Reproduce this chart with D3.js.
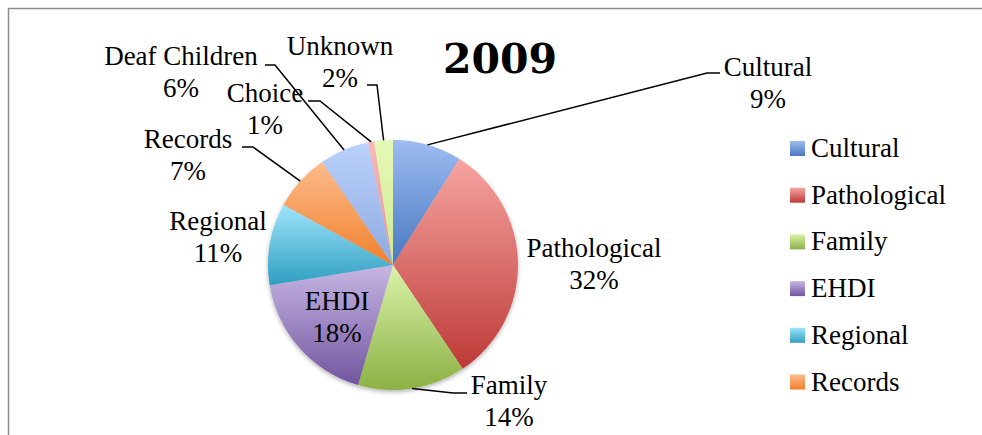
<!DOCTYPE html>
<html>
<head>
<meta charset="utf-8">
<script src="https://cdn.jsdelivr.net/npm/d3@7"></script>
<style>
  html, body { margin: 0; padding: 0; background: #ffffff; }
  svg { display: block; }
</style>
</head>
<body>
<script>
// ---- data ----
const title = "2009";
const categories = ["Cultural", "Pathological", "Family", "EHDI", "Regional", "Records", "Deaf Children", "Choice", "Unknown"];
const values = [8.9, 31.7, 13.9, 17.9, 10.6, 7.4, 6.4, 0.8, 2.4];
const legendCategories = ["Cultural", "Pathological", "Family", "EHDI", "Regional", "Records"];

// ---- styles / layout ----
const colorTop = ["#9dbcf2", "#f6a4a1", "#daf3a9", "#c7b6e4", "#9fe5fb", "#fdbb8b", "#bad1fb", "#f8b8b8", "#e6f9b8"];
const colorBot = ["#4877bf", "#bd3a37", "#8bb145", "#71559e", "#2f9ec0", "#f0812d", "#8eaae0", "#e89393", "#cfe88f"];

// label layout: [centerX, firstBaseline], optional leader elbow & end
const labelLayout = {
  "Cultural":      {x: 768, y: 76,  elbow: [707, 73], end: [720, 73]},
  "Pathological":  {x: 594, y: 257},
  "Family":        {x: 509, y: 394, elbow: [453, 393], end: [467, 393]},
  "EHDI":          {x: 337, y: 310},
  "Regional":      {x: 218, y: 230},
  "Records":       {x: 188, y: 148, elbow: [253, 147], end: [242, 147]},
  "Deaf Children": {x: 181, y: 65,  elbow: [275, 65], end: [265, 65]},
  "Choice":        {x: 265, y: 102, elbow: [320, 101], end: [308, 101]},
  "Unknown":       {x: 340, y: 55,  elbow: [377, 85], end: [367, 85]}
};

const W = 982, H = 435;
const cx = 393, cy = 265, R = 125;
const fontFam = "'Liberation Serif', 'Times New Roman', serif";
const fontSize = 27, lineGap = 32;

const svg = d3.select("body").append("svg").attr("width", W).attr("height", H);
const defs = svg.append("defs");

categories.forEach((c, i) => {
  const g = defs.append("linearGradient").attr("id", "grad" + i)
    .attr("x1", 0).attr("y1", 0).attr("x2", 0).attr("y2", 1);
  g.append("stop").attr("offset", "0%").attr("stop-color", colorTop[i]);
  g.append("stop").attr("offset", "100%").attr("stop-color", colorBot[i]);
});

const filt = defs.append("filter").attr("id", "shadow")
  .attr("x", "-20%").attr("y", "-20%").attr("width", "140%").attr("height", "140%");
filt.append("feDropShadow").attr("dx", 0).attr("dy", 2).attr("stdDeviation", 2)
  .attr("flood-color", "#000").attr("flood-opacity", 0.3);

// frame
svg.append("rect").attr("x", 8.5).attr("y", 8.5).attr("width", W).attr("height", H)
  .attr("fill", "none").attr("stroke", "#8c8c8c").attr("stroke-width", 1.5);

// title
svg.append("text").attr("x", 500).attr("y", 73).attr("text-anchor", "middle")
  .attr("font-family", "'DejaVu Serif', serif").attr("font-weight", "bold")
  .attr("font-size", 41).attr("fill", "#000").text(title);

// pie
const pie = d3.pie().sort(null).value(d => d.v);
const data = categories.map((c, i) => ({c, v: values[i], i}));
const arcs = pie(data);
const arc = d3.arc().innerRadius(0).outerRadius(R);

const gp = svg.append("g").attr("transform", `translate(${cx},${cy})`);
gp.append("g").attr("filter", "url(#shadow)")
  .selectAll("path").data(arcs).join("path")
  .attr("d", arc)
  .attr("fill", d => `url(#grad${d.data.i})`);

// leader lines
const total = d3.sum(values);
arcs.forEach(d => {
  const L = labelLayout[d.data.c];
  if (!L.elbow) return;
  const mid = (d.startAngle + d.endAngle) / 2;
  const sx = cx + R * Math.sin(mid), sy = cy - R * Math.cos(mid);
  svg.append("polyline")
    .attr("points", [[sx, sy], L.elbow, L.end].map(p => p.join(",")).join(" "))
    .attr("fill", "none").attr("stroke", "#000").attr("stroke-width", 1.5);
});

// labels
arcs.forEach(d => {
  const L = labelLayout[d.data.c];
  const pct = Math.round(d.data.v / total * 100) + "%";
  const t = svg.append("text").attr("text-anchor", "middle")
    .attr("font-family", fontFam).attr("font-size", fontSize).attr("fill", "#000");
  t.append("tspan").attr("x", L.x).attr("y", L.y).text(d.data.c);
  t.append("tspan").attr("x", L.x).attr("y", L.y + lineGap).text(pct);
});

// legend
const lg = svg.append("g");
legendCategories.forEach((c, k) => {
  const i = categories.indexOf(c);
  const y = 148.5 + k * 46.7;
  lg.append("rect").attr("x", 790).attr("y", y - 7.5).attr("width", 15).attr("height", 15)
    .attr("fill", `url(#grad${i})`);
  lg.append("text").attr("x", 811).attr("y", y + 8.5)
    .attr("font-family", fontFam).attr("font-size", fontSize).attr("fill", "#000").text(c);
});
</script>
</body>
</html>
